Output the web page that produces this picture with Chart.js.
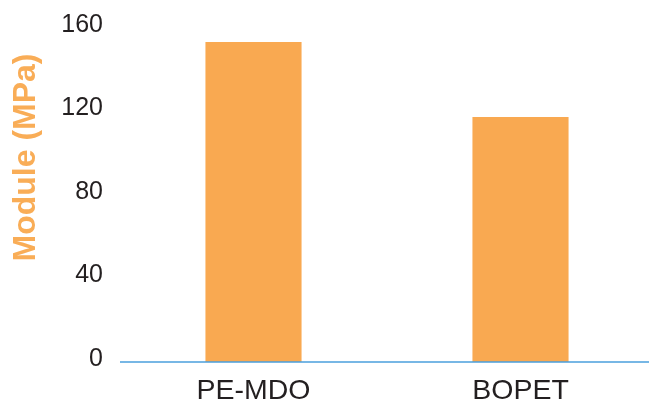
<!DOCTYPE html>
<html>
<head>
<meta charset="utf-8">
<script src="https://cdn.jsdelivr.net/npm/chart.js@4/dist/chart.umd.min.js"></script>
<style>
  html, body { margin: 0; padding: 0; background: #ffffff; overflow: hidden; }
  #wrap { width: 654px; height: 403px; position: relative; }
</style>
</head>
<body>
<div id="wrap"><canvas id="moduleChart"></canvas></div>
<script>
// chart data
const materials = ['PE-MDO', 'BOPET'];
const moduleValues = [153.3, 117.4];
const yTicks = [0, 40, 80, 120, 160];
const yTitle = 'Module (MPa)';

const FONT = "'Liberation Sans', Arial, Helvetica, sans-serif";
const BAR_COLOR = '#F9A951';
const TITLE_COLOR = '#F9AD57';
const TEXT_COLOR = '#231F20';
const LINE_COLOR = '#4A9FDC';

// rotated y title + blue baseline drawn over the bars
const extras = {
    id: 'extras',
    afterDatasetsDraw(chart) {
        const c = chart.ctx;
        const y0 = chart.scales.y.getPixelForValue(0);
        c.save();
        c.strokeStyle = LINE_COLOR;
        c.lineWidth = 1.5;
        c.beginPath();
        c.moveTo(chart.chartArea.left, y0);
        c.lineTo(chart.width, y0);
        c.stroke();

        c.translate(35, 157.5);
        c.rotate(-Math.PI / 2);
        c.fillStyle = TITLE_COLOR;
        c.font = 'bold 32px ' + FONT;
        c.textAlign = 'center';
        c.textBaseline = 'alphabetic';
        c.fillText(yTitle, 0, 0);
        c.restore();
    }
};

const ctx = document.getElementById('moduleChart').getContext('2d');
const moduleChart = new Chart(ctx, {
    type: 'bar',
    data: {
        labels: materials,
        datasets: [{
            label: yTitle,
            data: moduleValues,
            backgroundColor: BAR_COLOR,
            borderWidth: 0,
            barPercentage: 0.36,
            categoryPercentage: 1.0
        }]
    },
    options: {
        responsive: true,
        maintainAspectRatio: false,
        animation: false,
        layout: {
            padding: { top: 28, right: 0, bottom: 0, left: 0 }
        },
        plugins: {
            legend: { display: false },
            tooltip: { enabled: false }
        },
        scales: {
            x: {
                grid: { display: false, drawTicks: false },
                border: { display: false },
                ticks: {
                    color: TEXT_COLOR,
                    padding: 12,
                    font: { size: 28.5, family: FONT }
                },
                afterFit: function (scale) { scale.height = 41; }
            },
            y: {
                min: 0,
                max: 160,
                // tick marks hidden, tickLength only used as the label gap
                grid: { display: false, drawTicks: true, tickLength: 17 },
                border: { display: false },
                afterBuildTicks: function (scale) {
                    scale.ticks = yTicks.map(v => ({ value: v }));
                },
                ticks: {
                    color: TEXT_COLOR,
                    padding: 0,
                    labelOffset: -3,
                    font: { size: 25, family: FONT }
                },
                afterFit: function (scale) { scale.width = 120; }
            }
        }
    },
    plugins: [extras]
});
</script>
</body>
</html>
